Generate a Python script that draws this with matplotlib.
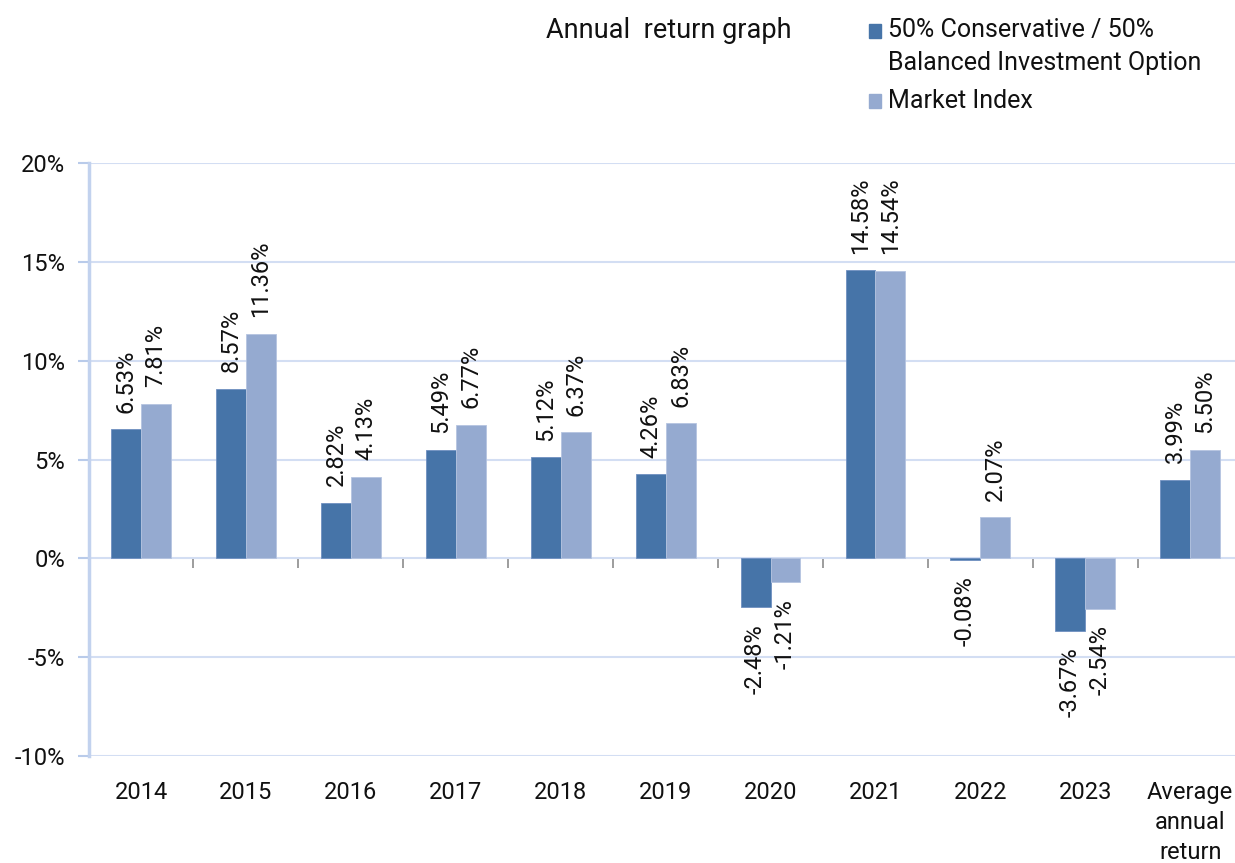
import numpy as np
import matplotlib
matplotlib.use('Agg')
import matplotlib.pyplot as plt
from matplotlib.patches import Rectangle
from matplotlib.ticker import FuncFormatter

plt.rcParams['font.family'] = ['Roboto', 'DejaVu Sans']

# Data
categories = ['2014', '2015', '2016', '2017', '2018', '2019', '2020', '2021',
              '2022', '2023', 'Average\nannual\nreturn']
balanced = [6.53, 8.57, 2.82, 5.49, 5.12, 4.26, -2.48, 14.58, -0.08, -3.67, 3.99]
market = [7.81, 11.36, 4.13, 6.77, 6.37, 6.83, -1.21, 14.54, 2.07, -2.54, 5.50]
series_names = ['50% Conservative / 50%\nBalanced Investment Option', 'Market Index']

dark = '#4674A8'
light = '#95AAD0'
grid_col = '#D3DEF3'
txt = '#111111'

fig = plt.figure(figsize=(12.35, 8.63), dpi=100)
ax = fig.add_axes([0.0717, 0.124, 0.9345, 0.687])

x = np.arange(len(categories))
w = 0.285
b1 = ax.bar(x - w / 2, balanced, w, color=dark, edgecolor='#6F90C0', linewidth=0.6, zorder=3)
b2 = ax.bar(x + w / 2, market, w, color=light, edgecolor='#B5C4E0', linewidth=0.6, zorder=3)

for bars in (b1, b2):
    ax.bar_label(bars, labels=['%.2f%%' % v for v in bars.datavalues], rotation=90,
                 padding=12, fontsize=17, color=txt)

ax.set_xlim(-0.5, len(categories) - 0.5)
ax.set_ylim(-10, 20)
ax.set_yticks(np.arange(-10, 21, 5))
ax.yaxis.set_major_formatter(FuncFormatter(lambda v, p: '%d%%' % v))
ax.grid(axis='y', color=grid_col, linewidth=1.5, zorder=0)
ax.tick_params(axis='y', length=8, width=1.5, color='#B9CBEA', labelsize=17, pad=9,
               labelcolor=txt)

ax.set_xticks(x)
ax.set_xticklabels(categories, fontsize=17, color=txt, linespacing=1.38, va='top')
ax.tick_params(axis='x', length=0, pad=18)

for s in ('top', 'right', 'bottom'):
    ax.spines[s].set_visible(False)
ax.spines['left'].set_color('#C2D2EE')
ax.spines['left'].set_linewidth(2.5)

# category axis drawn at 0%
zero_ax = ax.secondary_xaxis(1 / 3)
zero_ax.set_xticks(np.arange(-0.5, len(categories), 1.0))
zero_ax.set_xticklabels([])
zero_ax.tick_params(axis='x', direction='out', length=7, width=1.2, color='#8C8C8C')
zero_ax.spines['bottom'].set_color('#8C8C8C')
zero_ax.spines['bottom'].set_linewidth(1.2)

fig.text(0.442, 0.965, 'Annual  return graph', fontsize=19.5, color=txt, va='center')

# legend, square aligned with the first line of each entry
legend_rows = [(0.965, dark, series_names[0]), (0.883, light, series_names[1])]
for y0, col, name in legend_rows:
    fig.patches.append(Rectangle((0.7036, y0 - 0.0085), 0.0097, 0.016, color=col,
                                 transform=fig.transFigure, figure=fig))
    for i, line in enumerate(name.split('\n')):
        fig.text(0.719, y0 - i * 0.0385, line, fontsize=18, color=txt, va='center')

plt.savefig('out.png', dpi=100)
